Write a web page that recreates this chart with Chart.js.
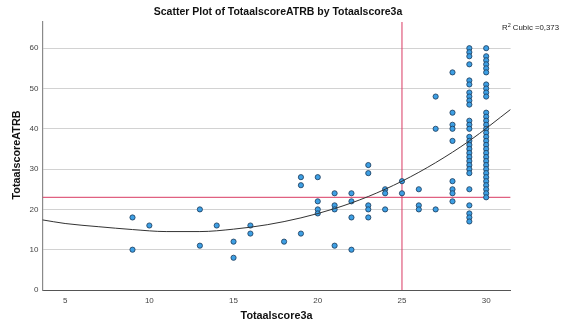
<!DOCTYPE html>
<html>
<head>
<meta charset="utf-8">
<script src="https://cdn.jsdelivr.net/npm/chart.js@4"></script>
<style>
  html, body { margin: 0; padding: 0; background: #ffffff; }
  #wrap { width: 562px; height: 327px; }
</style>
</head>
<body>
<div id="wrap"><canvas id="c" width="562" height="327"></canvas></div>
<script>
// ---- data ----
const scoreValues = [9, 10, 13, 14, 15, 16, 18, 19, 20, 21, 22, 23, 24, 25, 26, 27, 28, 29, 30];
const atrbGroups = [
  [18, 10],
  [16],
  [20, 11],
  [16],
  [12, 8],
  [16, 14],
  [12],
  [28, 26, 14],
  [28, 22, 20, 19],
  [24, 21, 20, 11],
  [24, 22, 18, 10],
  [31, 29, 21, 20, 18],
  [25, 24, 20],
  [27, 24],
  [25, 21, 20],
  [48, 40, 20],
  [54, 44, 41, 40, 37, 27, 25, 24, 22],
  [60, 59, 58, 56, 52, 51, 49, 48, 47, 46, 42, 41, 40, 38, 37, 36, 35, 34, 33, 32, 31, 30, 29, 25, 21, 19, 18, 17],
  [60, 58, 57, 56, 55, 54, 51, 50, 49, 48, 44, 43, 42, 41, 40, 39, 38, 37, 36, 35, 34, 33, 32, 31, 30, 29, 28, 27, 26, 25, 24, 23]
];
// cubic fit line
const fitX = [3.65, 5, 7, 9, 11, 13, 15, 17, 19, 21, 23, 25, 27, 29, 31.45];
const fitY = [17.4, 16.5, 15.7, 15.0, 14.5, 14.5, 15.1, 16.2, 17.9, 20.2, 23.2, 27.0, 31.6, 37.0, 44.8];
// reference lines
const refX = 25;
const refY = 23;
// axes
const xTicks = [5, 10, 15, 20, 25, 30];
const yTicks = [0, 10, 20, 30, 40, 50, 60];
const xMin = 3.65, xMax = 31.45, yMin = 0, yMax = 66.5;
const titleText = 'Scatter Plot of TotaalscoreATRB by Totaalscore3a';
const xTitle = 'Totaalscore3a';
const yTitle = 'TotaalscoreATRB';
const r2Text = '0,373';

// ---- build datasets ----
const points = [];
scoreValues.forEach((sx, i) => atrbGroups[i].forEach(v => points.push({x: sx, y: v})));
const fitPts = fitX.map((x, i) => ({x: x, y: fitY[i]}));

const FONT = "'Liberation Sans', Arial, sans-serif";

const textPlugin = {
  id: 'texts',
  afterDraw(chart) {
    const ctx = chart.ctx;
    const area = chart.chartArea;
    ctx.save();
    ctx.fillStyle = '#111';
    ctx.textBaseline = 'middle';
    // title
    ctx.font = 'bold 10.5px ' + FONT;
    ctx.textAlign = 'center';
    ctx.fillText(titleText, 278, 12.5);
    // x title
    ctx.font = 'bold 10.8px ' + FONT;
    ctx.fillText(xTitle, (area.left + area.right) / 2, 316);
    // y title
    ctx.save();
    ctx.translate(17, (area.top + area.bottom) / 2 - 1);
    ctx.rotate(-Math.PI / 2);
    ctx.fillText(yTitle, 0, 0);
    ctx.restore();
    // R2 label
    ctx.fillStyle = '#222';
    ctx.textAlign = 'left';
    let x = 502;
    ctx.font = '7.8px ' + FONT;
    ctx.fillText('R', x, 28);
    x += ctx.measureText('R').width;
    ctx.font = '5.5px ' + FONT;
    ctx.fillText('2', x, 25);
    x += ctx.measureText('2').width;
    ctx.font = '7.8px ' + FONT;
    ctx.fillText(' Cubic =' + r2Text, x, 28);
    ctx.restore();
  }
};

new Chart(document.getElementById('c'), {
  type: 'scatter',
  data: {
    datasets: [
      {
        type: 'line',
        data: fitPts,
        borderColor: '#333333',
        borderWidth: 1,
        pointRadius: 0,
        fill: false,
        tension: 0.4,
        cubicInterpolationMode: 'monotone',
        order: 1
      },
      {
        data: points,
        backgroundColor: '#3d9fe4',
        borderColor: '#1d3a58',
        borderWidth: 0.8,
        pointRadius: 2.6,
        pointHoverRadius: 2.6,
        order: 2
      },
      {
        type: 'line',
        data: [{x: refX, y: yMin}, {x: refX, y: yMax}],
        borderColor: '#d93a62',
        borderWidth: 1,
        pointRadius: 0,
        order: 3
      },
      {
        type: 'line',
        data: [{x: xMin, y: refY}, {x: xMax, y: refY}],
        borderColor: '#d93a62',
        borderWidth: 1,
        pointRadius: 0,
        order: 3
      }
    ]
  },
  options: {
    responsive: false,
    animation: false,
    events: [],
    layout: { padding: { top: 22, right: 51.4, left: 0, bottom: 0 } },
    plugins: { legend: { display: false }, title: { display: false }, tooltip: { enabled: false } },
    scales: {
      x: {
        type: 'linear',
        min: xMin,
        max: xMax,
        afterBuildTicks: s => { s.ticks = xTicks.map(v => ({value: v})); },
        afterFit: s => { s.height = 37; },
        grid: { display: true, color: 'rgba(0,0,0,0)', drawTicks: false },
        border: { display: true, color: '#555555', width: 1 },
        ticks: { padding: 6, color: '#444', font: { family: FONT, size: 8 }, maxRotation: 0 }
      },
      y: {
        type: 'linear',
        min: yMin,
        max: yMax,
        afterBuildTicks: s => { s.ticks = yTicks.map(v => ({value: v})); },
        afterFit: s => { s.width = 42.4; },
        grid: { color: '#d2d2d2', lineWidth: 1, drawTicks: false },
        border: { display: true, color: '#8a8a8a', width: 1.2 },
        ticks: { padding: 4, color: '#444', font: { family: FONT, size: 8 } }
      }
    }
  },
  plugins: [textPlugin]
});
</script>
</body>
</html>
